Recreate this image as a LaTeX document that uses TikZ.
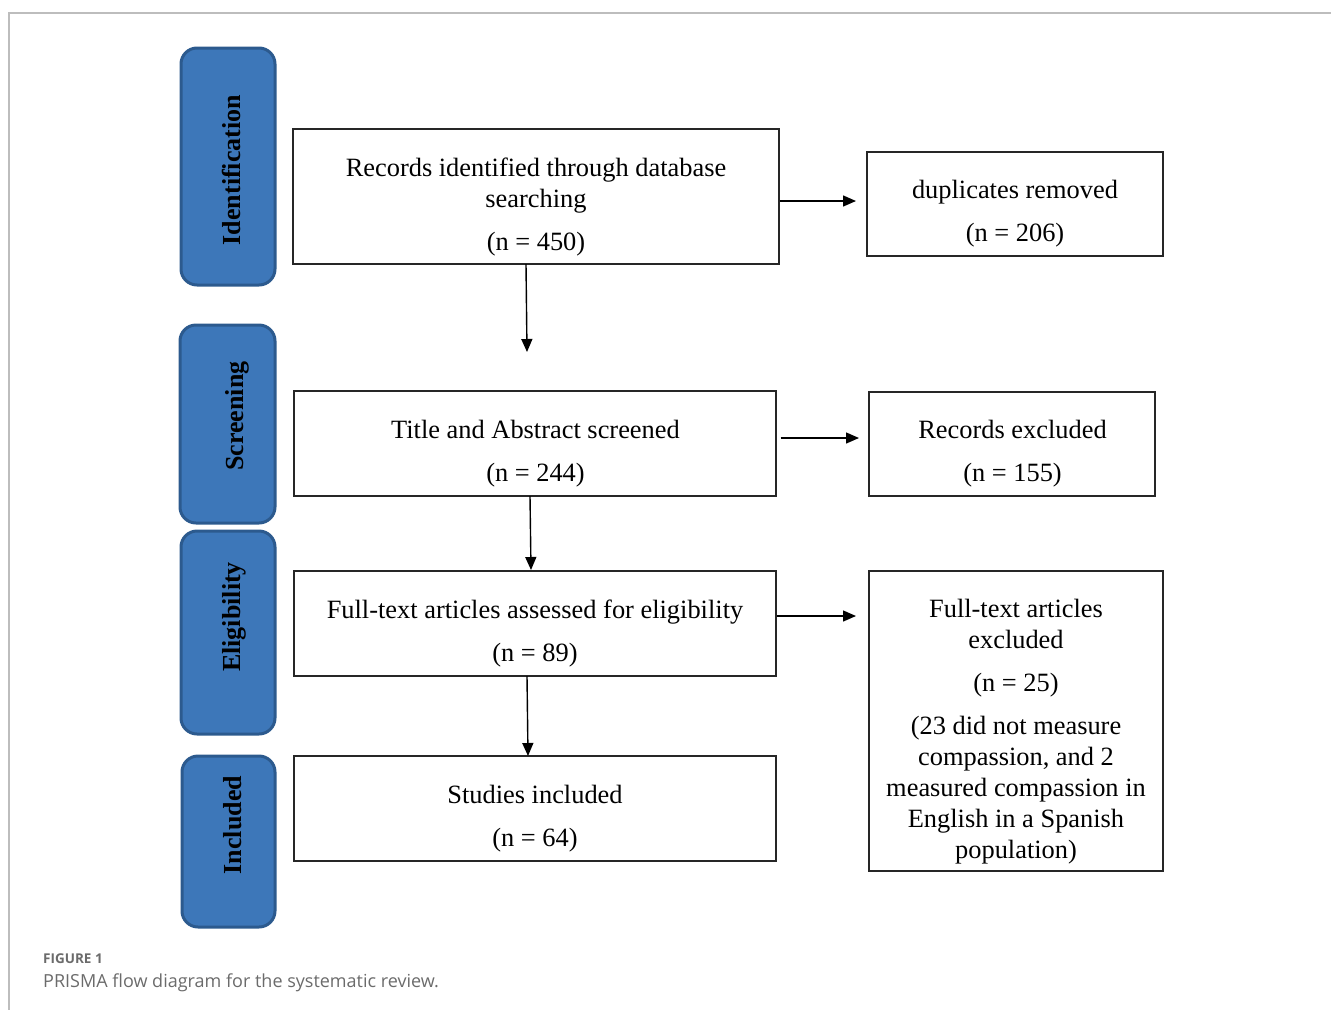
\documentclass[tikz,border=0pt]{standalone}
\usepackage{fontspec}
\setmainfont{Liberation Serif}
\newfontfamily\capfont{Open Sans}
\usetikzlibrary{arrows.meta}
\definecolor{phasefill}{HTML}{3D77B9}
\definecolor{phaseedge}{HTML}{2C5A8E}
\definecolor{framegray}{HTML}{BDBDBD}
\definecolor{capgray}{HTML}{6B6B6B}
\tikzset{
  phase/.style={draw=phaseedge, line width=3pt, fill=phasefill, rounded corners=16pt, inner sep=0pt},
  phasetext/.style={rotate=90, font=\fontsize{26}{30}\selectfont\bfseries, inner sep=0pt},
  box/.style={draw=black!85, line width=1.4pt, inner sep=0pt},
  boxtext/.style={align=center, font=\fontsize{26.4}{31}\selectfont, inner sep=0pt},
  flow/.style={line width=1.4pt, -{Triangle[length=13pt,width=11pt]}}
}
\begin{document}
\begin{tikzpicture}[x=1pt,y=-1pt]
\useasboundingbox (0,0) rectangle (1331,1010);
% frame
\draw[framegray, line width=2pt] (1331,13) -- (9,13) -- (9,1010);
% phase boxes
\node[phase, minimum width=94pt, minimum height=237pt] (pid) at (228,166.5) {};
\node[phase, minimum width=95pt, minimum height=198pt] (psc) at (227.5,424) {};
\node[phase, minimum width=94pt, minimum height=203pt] (pel) at (228,632.5) {};
\node[phase, minimum width=93pt, minimum height=171pt] (pin) at (228.5,841.5) {};
\node[phasetext] (tid) at (231,170) {Identification};
\node[phasetext] (tsc) at (237,416) {Screening};
\node[phasetext] (tel) at (234,617) {Eligibility};
\node[phasetext] (tin) at (233,825) {Included};
% main boxes
\node[box, minimum width=486pt, minimum height=135pt] (rec) at (536,196.5) {};
\node[box, minimum width=296pt, minimum height=104pt] (dup) at (1015,204) {};
\node[box, minimum width=482pt, minimum height=105pt] (scr) at (535,443.5) {};
\node[box, minimum width=286pt, minimum height=104pt] (rex) at (1012,444) {};
\node[box, minimum width=482pt, minimum height=105pt] (ful) at (535,623.5) {};
\node[box, minimum width=294pt, minimum height=300pt] (fex) at (1016,721) {};
\node[box, minimum width=482pt, minimum height=105pt] (inc) at (535,808.5) {};
% texts
\node[boxtext] (trec) at (536,207) {Records identified through database\\searching\\[12pt](n = 450)};
\node[boxtext] (tdup) at (1015,214) {duplicates removed\\[12pt](n = 206)};
\node[boxtext] (tscr) at (535.5,454) {Title and Abstract screened\\[12pt](n = 244)};
\node[boxtext] (trex) at (1012.5,454) {Records excluded\\[12pt](n = 155)};
\node[boxtext] (tful) at (535,634) {Full-text articles assessed for eligibility\\[12pt](n = 89)};
\node[boxtext] (tfex) at (1016,732) {Full-text articles\\excluded\\[12pt](n = 25)\\[12pt](23 did not measure\\compassion, and 2\\measured compassion in\\English in a Spanish\\population)};
\node[boxtext] (tinc) at (535,819) {Studies included\\[12pt](n = 64)};
% connectors
\coordinate (a1) at (856,201);
\coordinate (a2) at (527,352);
\coordinate (a3) at (859,438);
\coordinate (a4) at (856,616);
\draw[flow] (rec.east |- a1) -- (a1);
\draw[flow] (526,264) -- (a2);
\draw[flow] ([xshift=4pt]scr.east |- a3) -- (a3);
\draw[flow] (530,496) -- (531,570);
\draw[flow] (ful.east |- a4) -- (a4);
\draw[flow] (527,676) -- (528,756);
% caption
\node[anchor=base west, inner sep=0pt, text=capgray, font=\capfont\fontsize{13.5}{15}\selectfont\bfseries] (cap1) at (43,963) {FIGURE 1};
\node[anchor=base west, inner sep=0pt, text=capgray, font=\capfont\fontsize{18}{21}\selectfont] (cap2) at (43,987) {PRISMA flow diagram for the systematic review.};
\end{tikzpicture}
\end{document}
